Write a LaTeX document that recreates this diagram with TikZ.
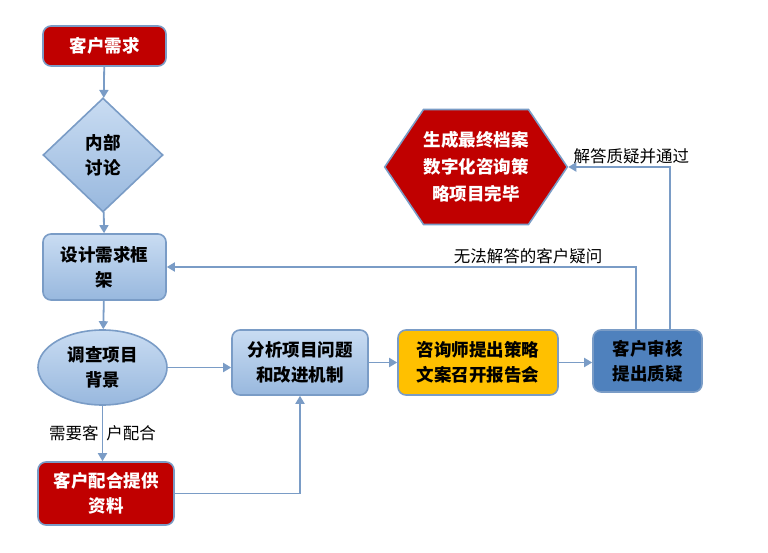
\documentclass[tikz,border=0pt]{standalone}
\usepackage{fontspec}
\newfontfamily\cjk{Noto Sans CJK SC}
\usetikzlibrary{
  shapes.geometric,
  shapes.symbols,
  arrows.meta
}
\definecolor{darkred}{HTML}{C00000}
\definecolor{edgeblue}{HTML}{7A9CC6}
\definecolor{lightblue}{HTML}{C9DCF2}
\definecolor{midblue}{HTML}{98B8DE}
\definecolor{gold}{HTML}{FFC000}
\definecolor{steel}{HTML}{4F81BD}
\tikzset{
  box/.style={
    draw=edgeblue,
    line width=1.6pt,
    rounded corners=8pt,
    align=center,
    inner sep=0pt,
    font=\cjk\bfseries\fontsize{17.5}{25}\selectfont
  },
  redbox/.style={box, fill=darkred, text=white},
  bluebox/.style={box, top color=lightblue, bottom color=midblue},
  flow/.style={
    draw=edgeblue,
    line width=1.8pt,
    -{Triangle[width=9pt,length=8pt]}
  },
  note/.style={font=\cjk\fontsize{16.5}{18}\selectfont, inner sep=2pt}
}
\begin{document}
\begin{tikzpicture}[x=1pt, y=-1pt]
  \useasboundingbox (0,0) rectangle (768,553);
  \node[redbox, minimum width=123, minimum height=40] (need) at (104.5,46) {客户需求};
  \node[bluebox, diamond, sharp corners, minimum width=120, minimum height=114] (talk) at (103,155) {内部\\讨论};
  \node[bluebox, minimum width=123, minimum height=66] (design) at (104.5,267) {设计需求框\\架};
  \node[bluebox, ellipse, minimum width=129, minimum height=75] (survey) at (102.5,367.5) {调查项目\\背景};
  \node[redbox, minimum width=136, minimum height=63] (supply) at (106,493.5) {客户配合提供\\资料};
  \node[bluebox, minimum width=136, minimum height=65] (analyse) at (300,362.5) {分析项目问题\\和改进机制};
  \node[box, fill=gold, minimum width=160, minimum height=65] (consult) at (478,362.5) {咨询师提出策略\\文案召开报告会};
  \node[box, fill=steel, minimum width=109, minimum height=62] (review) at (647.5,361) {客户审核\\提出质疑};
  \node[redbox, signal, sharp corners, signal from=nowhere, signal to=west and east, signal pointer angle=112,
        minimum width=178, minimum height=115, font=\cjk\bfseries\fontsize{17.5}{27}\selectfont] (finish) at (476,167)
        {生成最终档案\\数字化咨询策\\略项目完毕};

  \draw[flow] (need) -- (talk);
  \draw[flow] (talk) -- (design);
  \draw[flow] (design) -- (survey);
  \draw[flow] (survey.south) -- node[note] {需要客\hspace{8pt}户配合} (survey.south |- supply.north);
  \draw[flow] (survey.east) -- (survey.east -| analyse.west);
  \draw[flow] (supply.east) -- (supply.east -| analyse.south) -- (analyse.south);
  \draw[flow] (analyse.east) -- (consult.west);
  \draw[flow] (consult.east) -- (consult.east -| review.west);
  \draw[flow] ([xshift=22.5pt]review.north) |- node[note, pos=0.69, above] {解答质疑并通过} (finish.east);
  \draw[flow] ([xshift=-11.5pt]review.north) |- node[note, pos=0.615, above] {无法解答的客户疑问} (design.east);
\end{tikzpicture}
\end{document}
